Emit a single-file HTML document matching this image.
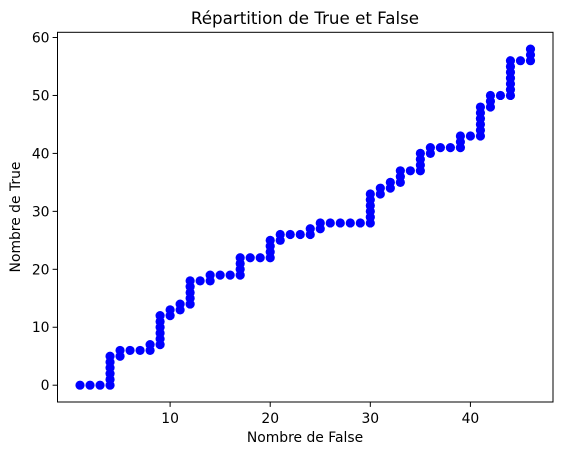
<!DOCTYPE html>
<html><head><meta charset="utf-8"><style>
body{margin:0;background:#fff}
svg{display:block;font-family:"DejaVu Sans","Liberation Sans",sans-serif}
</style></head><body>
<svg id="chart" width="562" height="455" xmlns="http://www.w3.org/2000/svg">
<rect width="562" height="455" fill="#fff"/>
<text x="305" y="24" text-anchor="middle" font-size="16.7" fill="#000">Répartition de True et False</text>
<g id="marks"></g>
<rect x="57.5" y="32.3" width="495.5" height="369.7" fill="none" stroke="#000" stroke-width="1"/>
<g id="xticks"></g>
<g id="yticks"></g>
<text x="305" y="442" text-anchor="middle" font-size="13.9">Nombre de False</text>
<text transform="translate(20,217) rotate(-90)" text-anchor="middle" font-size="13.9">Nombre de True</text>
</svg>
<script>
// Columns of the staircase: false count and the top true count reached in that column
const falseCols = [1,2,3,4,5,6,7,8,9,10,11,12,13,14,15,16,17,18,19,20,21,22,23,24,25,26,27,28,29,30,31,32,33,34,35,36,37,38,39,40,41,42,43,44,45,46];
const trueTops  = [0,0,0,5,6,6,6,7,12,13,14,18,18,19,19,19,22,22,22,25,26,26,26,27,28,28,28,28,28,33,34,35,37,37,40,41,41,41,43,43,48,50,50,56,56,58];
const xTickLabels = [10,20,30,40];
const yTickLabels = [0,10,20,30,40,50,60];

const L=57.5,R=553,T=32.3,B=402;
const xMin=-1.25,xMax=48.25,yMin=-2.9,yMax=60.9;
const xs=v=>L+(v-xMin)/(xMax-xMin)*(R-L);
const ys=v=>B-(v-yMin)/(yMax-yMin)*(B-T);
const NS="http://www.w3.org/2000/svg";
const marks=document.getElementById('marks');
let prev=trueTops[0];
for(let i=0;i<falseCols.length;i++){
  const top=trueTops[i];
  const start=Math.min(prev,top);
  for(let y=start;y<=top;y++){
    const c=document.createElementNS(NS,'circle');
    c.setAttribute('cx',xs(falseCols[i]));
    c.setAttribute('cy',ys(y));
    c.setAttribute('r',4.6);
    c.setAttribute('fill','#0000ff');
    
    
    marks.appendChild(c);
  }
  prev=top;
}
const xg=document.getElementById('xticks');
xTickLabels.forEach(v=>{
  const x=xs(v);
  const l=document.createElementNS(NS,'line');
  l.setAttribute('x1',x);l.setAttribute('x2',x);l.setAttribute('y1',B);l.setAttribute('y2',B+4.9);
  l.setAttribute('stroke','#000');
  
  
  xg.appendChild(l);
  const t=document.createElementNS(NS,'text');
  t.setAttribute('x',x);t.setAttribute('y',B+21);t.setAttribute('text-anchor','middle');t.setAttribute('font-size','13.9');
  t.textContent=v;
  
  
  xg.appendChild(t);
});
const yg=document.getElementById('yticks');
yTickLabels.forEach(v=>{
  const y=ys(v);
  const l=document.createElementNS(NS,'line');
  l.setAttribute('x1',L-4.9);l.setAttribute('x2',L);l.setAttribute('y1',y);l.setAttribute('y2',y);
  l.setAttribute('stroke','#000');
  
  
  yg.appendChild(l);
  const t=document.createElementNS(NS,'text');
  t.setAttribute('x',L-8);t.setAttribute('y',y+5);t.setAttribute('text-anchor','end');t.setAttribute('font-size','13.9');
  t.textContent=v;
  
  
  yg.appendChild(t);
});
</script>
</body></html>
